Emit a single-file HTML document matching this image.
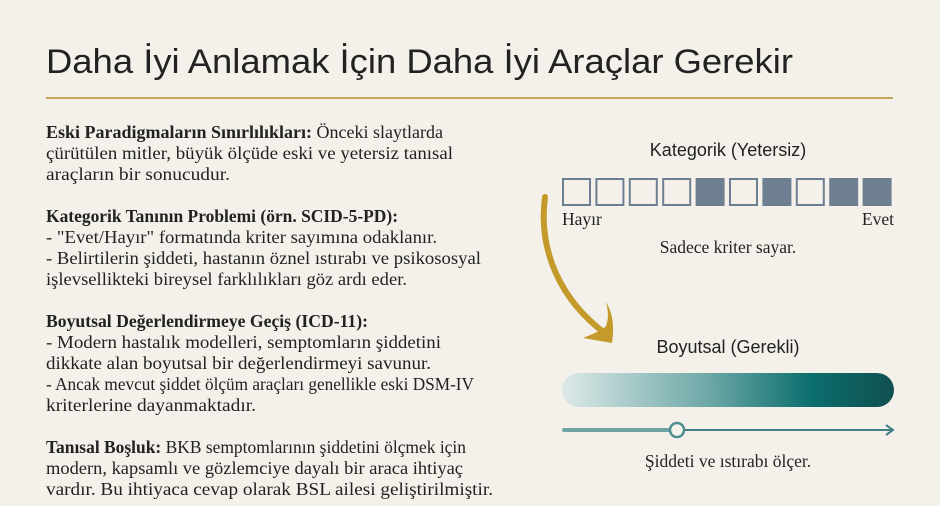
<!DOCTYPE html>
<html><head><meta charset="utf-8"><style>
html,body{margin:0;padding:0;background:#f4f1eb;}
svg{display:block;}
.t{font-family:"Liberation Serif",serif;font-size:17.5px;fill:#222;}
.b{font-weight:bold;}
.s{font-family:"Liberation Sans",sans-serif;fill:#222;}
</style></head><body>
<svg width="940" height="506" viewBox="0 0 940 506" xmlns="http://www.w3.org/2000/svg">
<defs>
<linearGradient id="g" x1="0" x2="1" y1="0" y2="0">
<stop offset="0" stop-color="#dde9e8"/>
<stop offset="0.45" stop-color="#6aa6a5"/>
<stop offset="0.75" stop-color="#0b6e6e"/>
<stop offset="1" stop-color="#10504f"/>
</linearGradient>
</defs>
<rect width="940" height="506" fill="#f4f1eb"/>
<text class="s" x="46" y="73" font-size="34" textLength="747" lengthAdjust="spacingAndGlyphs">Daha İyi Anlamak İçin Daha İyi Araçlar Gerekir</text>
<rect x="46" y="97" width="847" height="2" fill="#c9a557"/>

<g lengthAdjust="spacingAndGlyphs">
<text class="t" x="46" y="138" textLength="397" lengthAdjust="spacingAndGlyphs"><tspan class="b">Eski Paradigmaların Sınırlılıkları:</tspan> Önceki slaytlarda</text>
<text class="t" x="46" y="159" textLength="407" lengthAdjust="spacingAndGlyphs">çürütülen mitler, büyük ölçüde eski ve yetersiz tanısal</text>
<text class="t" x="46" y="180" textLength="184" lengthAdjust="spacingAndGlyphs">araçların bir sonucudur.</text>

<text class="t b" x="46" y="222" textLength="352" lengthAdjust="spacingAndGlyphs">Kategorik Tanının Problemi (örn. SCID-5-PD):</text>
<text class="t" x="46" y="243" textLength="391" lengthAdjust="spacingAndGlyphs">- "Evet/Hayır" formatında kriter sayımına odaklanır.</text>
<text class="t" x="46" y="264" textLength="435" lengthAdjust="spacingAndGlyphs">- Belirtilerin şiddeti, hastanın öznel ıstırabı ve psikososyal</text>
<text class="t" x="46" y="285" textLength="361" lengthAdjust="spacingAndGlyphs">işlevsellikteki bireysel farklılıkları göz ardı eder.</text>

<text class="t b" x="46" y="327" textLength="322" lengthAdjust="spacingAndGlyphs">Boyutsal Değerlendirmeye Geçiş (ICD-11):</text>
<text class="t" x="46" y="348" textLength="395" lengthAdjust="spacingAndGlyphs">- Modern hastalık modelleri, semptomların şiddetini</text>
<text class="t" x="46" y="369" textLength="385" lengthAdjust="spacingAndGlyphs">dikkate alan boyutsal bir değerlendirmeyi savunur.</text>
<text class="t" x="46" y="390" textLength="428" lengthAdjust="spacingAndGlyphs">- Ancak mevcut şiddet ölçüm araçları genellikle eski DSM-IV</text>
<text class="t" x="46" y="411" textLength="210" lengthAdjust="spacingAndGlyphs">kriterlerine dayanmaktadır.</text>

<text class="t" x="46" y="453" textLength="420" lengthAdjust="spacingAndGlyphs"><tspan class="b">Tanısal Boşluk:</tspan> BKB semptomlarının şiddetini ölçmek için</text>
<text class="t" x="46" y="474" textLength="417" lengthAdjust="spacingAndGlyphs">modern, kapsamlı ve gözlemciye dayalı bir araca ihtiyaç</text>
<text class="t" x="46" y="495" textLength="447" lengthAdjust="spacingAndGlyphs">vardır. Bu ihtiyaca cevap olarak BSL ailesi geliştirilmiştir.</text>
</g>

<text class="s" x="728" y="156" font-size="18" text-anchor="middle">Kategorik (Yetersiz)</text>
<g stroke="#6e7f91" stroke-width="2" fill="none">
<rect x="563" y="179" width="27" height="26"/>
<rect x="596.4" y="179" width="27" height="26"/>
<rect x="629.8" y="179" width="27" height="26"/>
<rect x="663.2" y="179" width="27" height="26"/>
<rect x="696.6" y="179" width="27" height="26" fill="#6e7f91"/>
<rect x="730" y="179" width="27" height="26"/>
<rect x="763.4" y="179" width="27" height="26" fill="#6e7f91"/>
<rect x="796.8" y="179" width="27" height="26"/>
<rect x="830.2" y="179" width="27" height="26" fill="#6e7f91"/>
<rect x="863.6" y="179" width="27" height="26" fill="#6e7f91"/>
</g>
<text class="t" x="562" y="225" font-size="14.5">Hayır</text>
<text class="t" x="894" y="225" font-size="14.5" text-anchor="end">Evet</text>
<text class="t" x="728" y="253" font-size="14.5" text-anchor="middle">Sadece kriter sayar.</text>

<path d="M545 197 C538 250 560 300 606 334" stroke="#c49a2a" stroke-width="6" fill="none" stroke-linecap="round"/>
<path d="M612 343 L583 338 C595 333 603 330 606 326 C609 318 608 310 606 302 C614 315 614 330 612 343 Z" fill="#c49a2a"/>

<text class="s" x="728" y="353" font-size="18" text-anchor="middle">Boyutsal (Gerekli)</text>
<rect x="562" y="373" width="332" height="34" rx="17" fill="url(#g)"/>
<line x1="564" y1="430" x2="670" y2="430" stroke="#6fa3a3" stroke-width="4" stroke-linecap="round"/>
<line x1="684" y1="430" x2="892" y2="430" stroke="#3f7f82" stroke-width="2"/>
<path d="M886 425 L893 430 L886 435" stroke="#3f7f82" stroke-width="2" fill="none"/>
<circle cx="677" cy="430" r="7" fill="#f4f1eb" stroke="#4f8e90" stroke-width="2.5"/>
<text class="t" x="728" y="467" font-size="14.5" text-anchor="middle">Şiddeti ve ıstırabı ölçer.</text>
</svg>
</body></html>
